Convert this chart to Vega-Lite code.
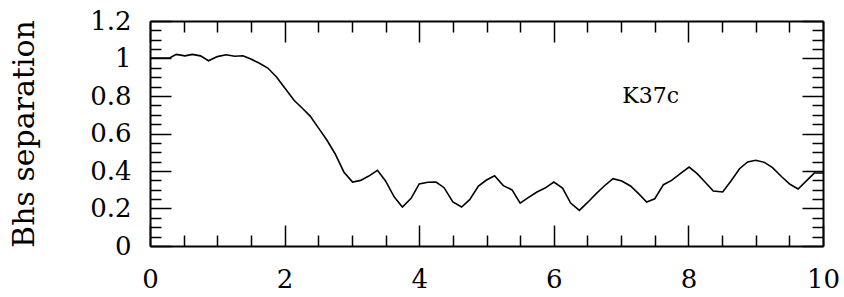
{
  "$schema": "https://vega.github.io/schema/vega-lite/v6.json",
  "width": 673,
  "height": 225,
  "autosize": "none",
  "padding": {"left": 150, "top": 21, "right": 21, "bottom": 51},
  "background": "white",
  "config": {
    "view": {"stroke": null},
    "axis": {"grid": false, "domainColor": "black", "domainWidth": 2, "tickColor": "black", "tickWidth": 1.5, "labelFont": "DejaVu Serif", "labelFontSize": 26, "labelColor": "black", "titleFont": "DejaVu Serif", "titleFontSize": 30, "titleFontWeight": "normal", "titleColor": "black"}
  },
  "datasets": {
    "curve": [
      {"t": 0.0, "sep": 1.003},
      {"t": 0.3, "sep": 1.004},
      {"t": 0.39, "sep": 1.022},
      {"t": 0.52, "sep": 1.014},
      {"t": 0.63, "sep": 1.022},
      {"t": 0.75, "sep": 1.014},
      {"t": 0.87, "sep": 0.988},
      {"t": 1.0, "sep": 1.01},
      {"t": 1.13, "sep": 1.02},
      {"t": 1.26, "sep": 1.012},
      {"t": 1.38, "sep": 1.015},
      {"t": 1.49, "sep": 0.999},
      {"t": 1.62, "sep": 0.976},
      {"t": 1.75, "sep": 0.949},
      {"t": 1.88, "sep": 0.901},
      {"t": 2.0, "sep": 0.844},
      {"t": 2.14, "sep": 0.777},
      {"t": 2.26, "sep": 0.736},
      {"t": 2.38, "sep": 0.693},
      {"t": 2.51, "sep": 0.626},
      {"t": 2.63, "sep": 0.564},
      {"t": 2.75, "sep": 0.492},
      {"t": 2.88, "sep": 0.395},
      {"t": 3.01, "sep": 0.341},
      {"t": 3.13, "sep": 0.35},
      {"t": 3.25, "sep": 0.373},
      {"t": 3.38, "sep": 0.404},
      {"t": 3.5, "sep": 0.347},
      {"t": 3.63, "sep": 0.261},
      {"t": 3.75, "sep": 0.208},
      {"t": 3.88, "sep": 0.254},
      {"t": 4.0, "sep": 0.331},
      {"t": 4.13, "sep": 0.34},
      {"t": 4.25, "sep": 0.341},
      {"t": 4.37, "sep": 0.311},
      {"t": 4.5, "sep": 0.235},
      {"t": 4.63, "sep": 0.208},
      {"t": 4.75, "sep": 0.247},
      {"t": 4.88, "sep": 0.32},
      {"t": 5.0, "sep": 0.352},
      {"t": 5.12, "sep": 0.375},
      {"t": 5.25, "sep": 0.322},
      {"t": 5.38, "sep": 0.299},
      {"t": 5.5, "sep": 0.229},
      {"t": 5.62, "sep": 0.258},
      {"t": 5.75, "sep": 0.288},
      {"t": 5.87, "sep": 0.309},
      {"t": 6.0, "sep": 0.341},
      {"t": 6.13, "sep": 0.309},
      {"t": 6.25, "sep": 0.229},
      {"t": 6.38, "sep": 0.19},
      {"t": 6.51, "sep": 0.235},
      {"t": 6.63, "sep": 0.279},
      {"t": 6.75, "sep": 0.32},
      {"t": 6.88, "sep": 0.359},
      {"t": 7.01, "sep": 0.347},
      {"t": 7.14, "sep": 0.32},
      {"t": 7.26, "sep": 0.279},
      {"t": 7.38, "sep": 0.235},
      {"t": 7.5, "sep": 0.252},
      {"t": 7.63, "sep": 0.327},
      {"t": 7.75, "sep": 0.35},
      {"t": 7.88, "sep": 0.386},
      {"t": 8.01, "sep": 0.421},
      {"t": 8.13, "sep": 0.386},
      {"t": 8.25, "sep": 0.34},
      {"t": 8.37, "sep": 0.293},
      {"t": 8.51, "sep": 0.288},
      {"t": 8.63, "sep": 0.345},
      {"t": 8.76, "sep": 0.412},
      {"t": 8.88, "sep": 0.448},
      {"t": 9.0, "sep": 0.457},
      {"t": 9.13, "sep": 0.446},
      {"t": 9.25, "sep": 0.418},
      {"t": 9.39, "sep": 0.368},
      {"t": 9.51, "sep": 0.329},
      {"t": 9.63, "sep": 0.304},
      {"t": 9.76, "sep": 0.35},
      {"t": 9.87, "sep": 0.389},
      {"t": 10.0, "sep": 0.389}
    ],
    "label": [{"t": 7.44, "sep": 0.8, "text": "K37c"}]
  },
  "resolve": {"axis": {"x": "independent", "y": "independent"}},
  "layer": [
    {
      "data": {"name": "curve"},
      "mark": {"type": "line", "color": "black", "strokeWidth": 1.6, "clip": true},
      "encoding": {
        "x": {"field": "t", "type": "quantitative", "scale": {"domain": [0, 10], "nice": false, "zero": false},
              "axis": {"orient": "bottom", "title": null, "format": "d", "values": [0, 2, 4, 6, 8, 10], "tickSize": -21, "labelPadding": 41, "labelFlush": false, "labelBaseline": "top"}},
        "y": {"field": "sep", "type": "quantitative", "scale": {"domain": [0, 1.2], "nice": false, "zero": false},
              "axis": {"orient": "left", "title": "Bhs separation", "titlePadding": 50, "format": "~f", "values": [0, 0.2, 0.4, 0.6, 0.8, 1, 1.2], "tickSize": -21, "labelPadding": 40, "labelFlush": false}}
      }
    },
    {
      "data": {"name": "curve"},
      "mark": {"type": "line", "strokeOpacity": 0},
      "encoding": {
        "x": {"field": "t", "type": "quantitative", "axis": {"orient": "bottom", "title": null, "labels": false, "domain": false, "values": [0.5, 1, 1.5, 2.5, 3, 3.5, 4.5, 5, 5.5, 6.5, 7, 7.5, 8.5, 9, 9.5], "tickSize": -11}},
        "y": {"field": "sep", "type": "quantitative", "axis": {"orient": "left", "title": null, "labels": false, "domain": false, "values": [0.05, 0.1, 0.15, 0.25, 0.3, 0.35, 0.45, 0.5, 0.55, 0.65, 0.7, 0.75, 0.85, 0.9, 0.95, 1.05, 1.1, 1.15], "tickSize": -11}}
      }
    },
    {
      "data": {"name": "curve"},
      "mark": {"type": "line", "strokeOpacity": 0},
      "encoding": {
        "x": {"field": "t", "type": "quantitative", "axis": {"orient": "top", "title": null, "labels": false, "values": [0, 2, 4, 6, 8, 10], "tickSize": -21}},
        "y": {"field": "sep", "type": "quantitative", "axis": {"orient": "right", "title": null, "labels": false, "values": [0, 0.2, 0.4, 0.6, 0.8, 1, 1.2], "tickSize": -21}}
      }
    },
    {
      "data": {"name": "curve"},
      "mark": {"type": "line", "strokeOpacity": 0},
      "encoding": {
        "x": {"field": "t", "type": "quantitative", "axis": {"orient": "top", "title": null, "labels": false, "domain": false, "values": [0.5, 1, 1.5, 2.5, 3, 3.5, 4.5, 5, 5.5, 6.5, 7, 7.5, 8.5, 9, 9.5], "tickSize": -11}},
        "y": {"field": "sep", "type": "quantitative", "axis": {"orient": "right", "title": null, "labels": false, "domain": false, "values": [0.05, 0.1, 0.15, 0.25, 0.3, 0.35, 0.45, 0.5, 0.55, 0.65, 0.7, 0.75, 0.85, 0.9, 0.95, 1.05, 1.1, 1.15], "tickSize": -11}}
      }
    },
    {
      "data": {"name": "label"},
      "mark": {"type": "text", "font": "DejaVu Serif", "fontSize": 22, "color": "black", "align": "center", "baseline": "middle"},
      "encoding": {
        "x": {"field": "t", "type": "quantitative", "axis": null},
        "y": {"field": "sep", "type": "quantitative", "axis": null},
        "text": {"field": "text"}
      }
    }
  ]
}
